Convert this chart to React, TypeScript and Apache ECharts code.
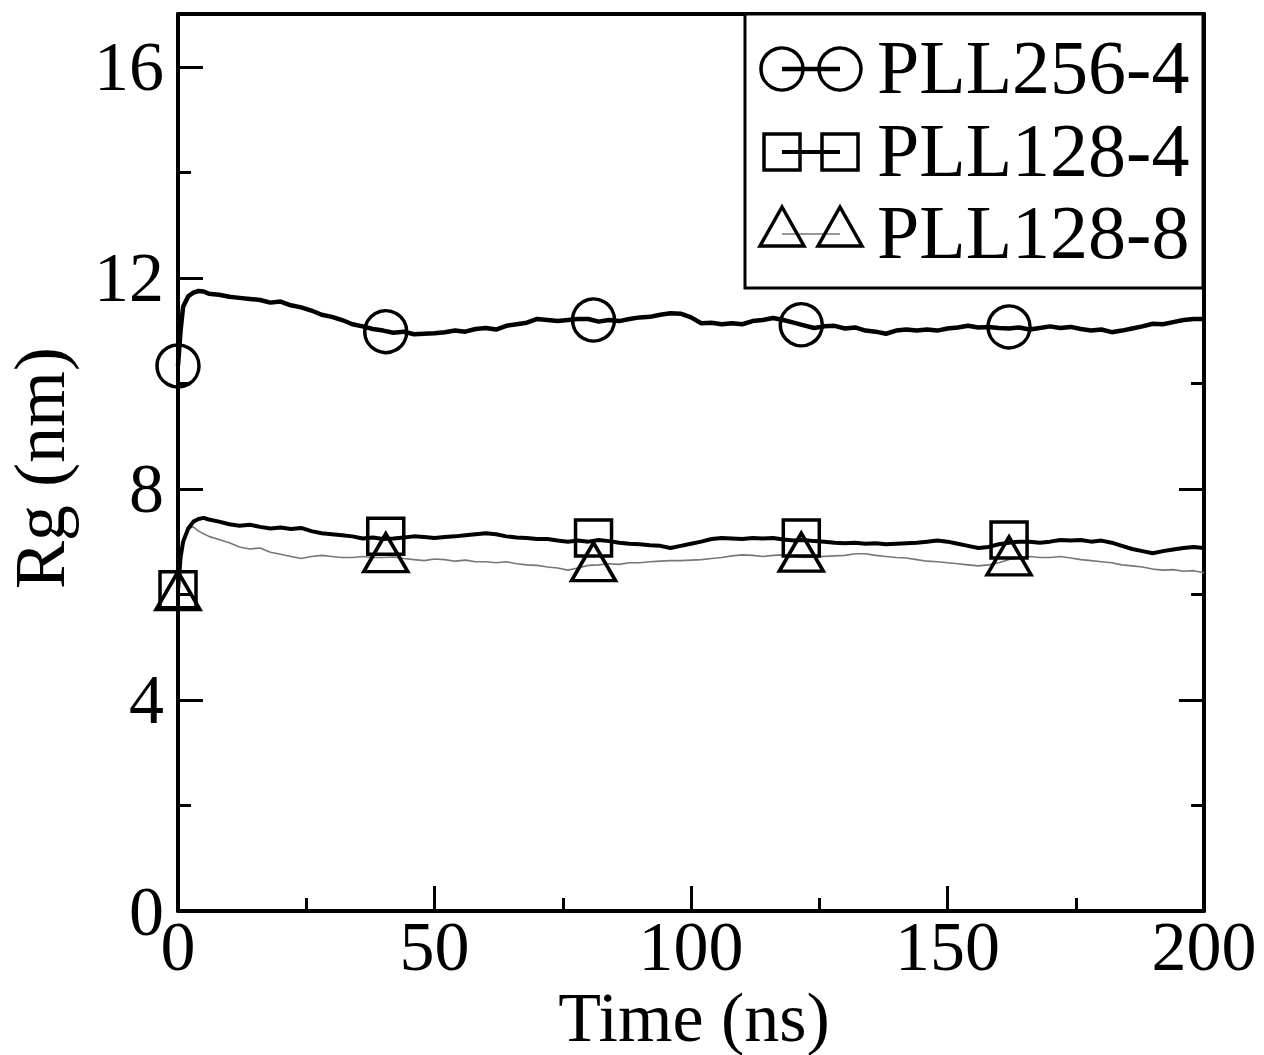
import React, { useEffect, useRef } from "react";
import * as echarts from "echarts";

const times = [0, 0.5, 1, 2, 3, 4, 5, 6, 8, 10, 12, 14, 16, 18, 20, 22, 24, 26, 28, 30, 32, 34, 36, 38, 40, 42, 44, 46, 48, 50, 52, 54, 56, 58, 60, 62, 64, 66, 68, 70, 72, 74, 76, 78, 80, 82, 84, 86, 88, 90, 92, 94, 96, 98, 100, 102, 104, 106, 108, 110, 112, 114, 116, 118, 120, 122, 124, 126, 128, 130, 132, 134, 136, 138, 140, 142, 144, 146, 148, 150, 152, 154, 156, 158, 160, 162, 164, 166, 168, 170, 172, 174, 176, 178, 180, 182, 184, 186, 188, 190, 192, 194, 196, 198, 200];

const pll256_4 = [10.33, 11.0, 11.45, 11.65, 11.72, 11.75, 11.74, 11.7, 11.68, 11.64, 11.62, 11.6, 11.58, 11.53, 11.55, 11.48, 11.44, 11.38, 11.3, 11.26, 11.2, 11.12, 11.08, 11.03, 11.0, 10.96, 10.98, 10.93, 10.94, 10.95, 10.97, 11.0, 10.98, 11.03, 11.05, 11.02, 11.09, 11.12, 11.15, 11.22, 11.2, 11.18, 11.2, 11.22, 11.22, 11.17, 11.2, 11.18, 11.22, 11.25, 11.26, 11.3, 11.33, 11.32, 11.25, 11.14, 11.15, 11.12, 11.14, 11.12, 11.18, 11.2, 11.24, 11.2, 11.15, 11.1, 11.05, 11.08, 11.09, 11.04, 11.06, 11.0, 10.98, 10.94, 11.0, 11.02, 11.0, 11.02, 11.0, 11.04, 11.06, 11.09, 11.06, 11.07, 11.05, 11.04, 11.06, 11.02, 11.05, 11.08, 11.05, 11.07, 11.03, 11.0, 11.02, 10.97, 11.0, 11.04, 11.08, 11.13, 11.12, 11.16, 11.2, 11.22, 11.22];

const pll128_4 = [6.07, 6.7, 7.0, 7.25, 7.38, 7.43, 7.45, 7.42, 7.38, 7.33, 7.3, 7.32, 7.28, 7.25, 7.27, 7.24, 7.26, 7.2, 7.16, 7.14, 7.12, 7.1, 7.06, 7.08, 7.05, 7.06, 7.08, 7.1, 7.09, 7.07, 7.09, 7.1, 7.12, 7.14, 7.16, 7.14, 7.1, 7.08, 7.07, 7.05, 7.05, 7.02, 7.0, 7.02, 7.0, 7.03, 7.01, 6.98, 6.96, 6.95, 6.93, 6.92, 6.88, 6.92, 6.96, 7.0, 7.05, 7.07, 7.06, 7.05, 7.07, 7.06, 7.07, 7.04, 7.02, 7.03, 7.01, 7.0, 6.98, 6.97, 6.98, 6.96, 6.97, 6.95, 6.96, 6.97, 6.98, 7.0, 7.02, 7.0, 6.96, 6.92, 6.88, 6.9, 6.95, 6.98, 7.0, 7.0, 6.98, 7.0, 7.03, 7.02, 7.03, 7.0, 7.02, 6.98, 6.92, 6.86, 6.82, 6.78, 6.82, 6.85, 6.88, 6.9, 6.88];

const pll128_8 = [6.1, 6.7, 7.05, 7.25, 7.28, 7.2, 7.15, 7.1, 7.04, 6.98, 6.9, 6.86, 6.88, 6.8, 6.76, 6.72, 6.68, 6.72, 6.74, 6.72, 6.7, 6.7, 6.72, 6.7, 6.7, 6.71, 6.68, 6.66, 6.64, 6.67, 6.66, 6.63, 6.65, 6.62, 6.62, 6.6, 6.62, 6.58, 6.56, 6.55, 6.52, 6.5, 6.46, 6.5, 6.55, 6.56, 6.58, 6.57, 6.6, 6.6, 6.62, 6.63, 6.64, 6.64, 6.65, 6.66, 6.68, 6.7, 6.73, 6.75, 6.74, 6.72, 6.74, 6.75, 6.72, 6.7, 6.71, 6.72, 6.73, 6.74, 6.77, 6.77, 6.74, 6.72, 6.7, 6.69, 6.66, 6.63, 6.62, 6.6, 6.58, 6.56, 6.54, 6.56, 6.6, 6.66, 6.7, 6.72, 6.7, 6.7, 6.72, 6.69, 6.66, 6.64, 6.62, 6.6, 6.56, 6.54, 6.52, 6.48, 6.46, 6.47, 6.44, 6.45, 6.41];

const markerTimes = [0, 40.5, 81, 121.5, 162];
const markers256_4 = [10.33, 10.98, 11.2, 11.11, 11.07];
const markers128_4 = [6.09, 7.1, 7.07, 7.07, 7.03];
const markers128_8 = [6.07, 6.79, 6.62, 6.8, 6.73];

const seriesNames = ["PLL256-4", "PLL128-4", "PLL128-8"];
const xTitle = "Time (ns)";
const yTitle = "Rg (nm)";

const FONT = "'Liberation Serif', 'Times New Roman', serif";

function pairs(xs: number[], ys: number[]) {
  return xs.map((x, i) => [x, ys[i]]);
}

export default function App() {
  const ref = useRef<HTMLDivElement>(null);
  useEffect(() => {
    if (!ref.current) return;
    const chart = echarts.init(ref.current, null, { renderer: "svg" });
    const axisCommon = {
      axisLine: { show: true, onZero: false, lineStyle: { color: "#000", width: 4 } },
      axisTick: { show: true, inside: true, length: 25, lineStyle: { color: "#000", width: 3 } },
      minorTick: { show: true, splitNumber: 2, length: 13, lineStyle: { color: "#000", width: 3 } },
      splitLine: { show: false },
      minorSplitLine: { show: false },
    };
    const labelStyle = { fontSize: 70, fontFamily: FONT, color: "#000" };
    const hollow = { color: "rgba(0,0,0,0)", borderColor: "#000", borderWidth: 3.5, opacity: 1 };
    const lx1 = 782, lx2 = 840;
    const rows = [69, 152, 234];
    chart.setOption({
      animation: false,
      backgroundColor: "#fff",
      grid: { left: 178, top: 14, right: 60, bottom: 144, containLabel: false },
      xAxis: [
        {
          type: "value", min: 0, max: 200, interval: 50, position: "bottom",
          ...axisCommon,
          axisLabel: { ...labelStyle, margin: 0, lineHeight: 70 },
        },
        {
          type: "value", min: 0, max: 200, interval: 50, position: "top",
          axisLine: { show: true, onZero: false, lineStyle: { color: "#000", width: 4 } },
          axisTick: { show: false },
          minorTick: { show: false },
          splitLine: { show: false },
          axisLabel: { show: false },
        },
      ],
      yAxis: [
        {
          type: "value", min: 0, max: 17, interval: 4, position: "left",
          ...axisCommon,
          axisLabel: { ...labelStyle, margin: 14, showMaxLabel: false },
        },
        {
          type: "value", min: 0, max: 17, interval: 4, position: "right",
          ...axisCommon,
          axisLabel: { show: false },
        },
      ],
      series: [
        {
          name: seriesNames[0], type: "line", data: pairs(times, pll256_4), showSymbol: false,
          lineStyle: { color: "#000", width: 4.5 }, z: 3,
        },
        {
          name: seriesNames[1], type: "line", data: pairs(times, pll128_4), showSymbol: false,
          lineStyle: { color: "#000", width: 4 }, z: 3,
        },
        {
          name: seriesNames[2], type: "line", data: pairs(times, pll128_8), showSymbol: false,
          lineStyle: { color: "#777", width: 1.6 }, z: 2,
        },
        {
          type: "scatter", data: pairs(markerTimes, markers256_4), symbol: "circle", symbolSize: 42,
          itemStyle: hollow, z: 4,
        },
        {
          type: "scatter", data: pairs(markerTimes, markers128_4), symbol: "rect", symbolSize: 36,
          itemStyle: hollow, z: 4,
        },
        {
          type: "scatter", data: pairs(markerTimes, markers128_8), symbol: "triangle", symbolSize: [44, 38],
          itemStyle: hollow, z: 4,
        },
      ],
      graphic: [
        {
          type: "text", x: 40, y: 468, rotation: Math.PI / 2,
          style: { text: yTitle, font: `72px ${FONT}`, fill: "#000", align: "center", verticalAlign: "middle" },
        },
        {
          type: "text", x: 694, y: 1017,
          style: { text: xTitle, font: `70px ${FONT}`, fill: "#000", align: "center", verticalAlign: "middle" },
        },
        {
          type: "rect", shape: { x: 745, y: 14, width: 458, height: 274 },
          style: { fill: "#fff", stroke: "#000", lineWidth: 3 }, z: 10,
        },
        // legend row 1
        { type: "line", shape: { x1: lx1, y1: rows[0], x2: lx2, y2: rows[0] }, style: { stroke: "#000", lineWidth: 4.5 }, z: 11 },
        { type: "circle", shape: { cx: lx1, cy: rows[0], r: 21 }, style: { fill: "none", stroke: "#000", lineWidth: 3.5 }, z: 11 },
        { type: "circle", shape: { cx: lx2, cy: rows[0], r: 21 }, style: { fill: "none", stroke: "#000", lineWidth: 3.5 }, z: 11 },
        // legend row 2
        { type: "line", shape: { x1: lx1, y1: rows[1], x2: lx2, y2: rows[1] }, style: { stroke: "#000", lineWidth: 4 }, z: 11 },
        { type: "rect", shape: { x: lx1 - 18, y: rows[1] - 18, width: 36, height: 36 }, style: { fill: "none", stroke: "#000", lineWidth: 3.5 }, z: 11 },
        { type: "rect", shape: { x: lx2 - 18, y: rows[1] - 18, width: 36, height: 36 }, style: { fill: "none", stroke: "#000", lineWidth: 3.5 }, z: 11 },
        // legend row 3
        { type: "line", shape: { x1: lx1, y1: rows[2], x2: lx2, y2: rows[2] }, style: { stroke: "#777", lineWidth: 1.6 }, z: 11 },
        { type: "polygon", shape: { points: [[lx1, rows[2] - 27], [lx1 + 22, rows[2] + 12], [lx1 - 22, rows[2] + 12]] }, style: { fill: "none", stroke: "#000", lineWidth: 3.5 }, z: 11 },
        { type: "polygon", shape: { points: [[lx2, rows[2] - 27], [lx2 + 22, rows[2] + 12], [lx2 - 22, rows[2] + 12]] }, style: { fill: "none", stroke: "#000", lineWidth: 3.5 }, z: 11 },
        ...seriesNames.map((n, i) => ({
          type: "text", x: 877, y: rows[i] - 2, z: 11,
          style: { text: n, font: `76px ${FONT}`, fill: "#000", align: "left", verticalAlign: "middle" },
        })),
      ],
    });
    return () => chart.dispose();
  }, []);
  return (
    <div
      ref={ref}
      style={{ position: "fixed", left: 0, top: 0, width: 1264, height: 1055, background: "#fff" }}
    />
  );
}
